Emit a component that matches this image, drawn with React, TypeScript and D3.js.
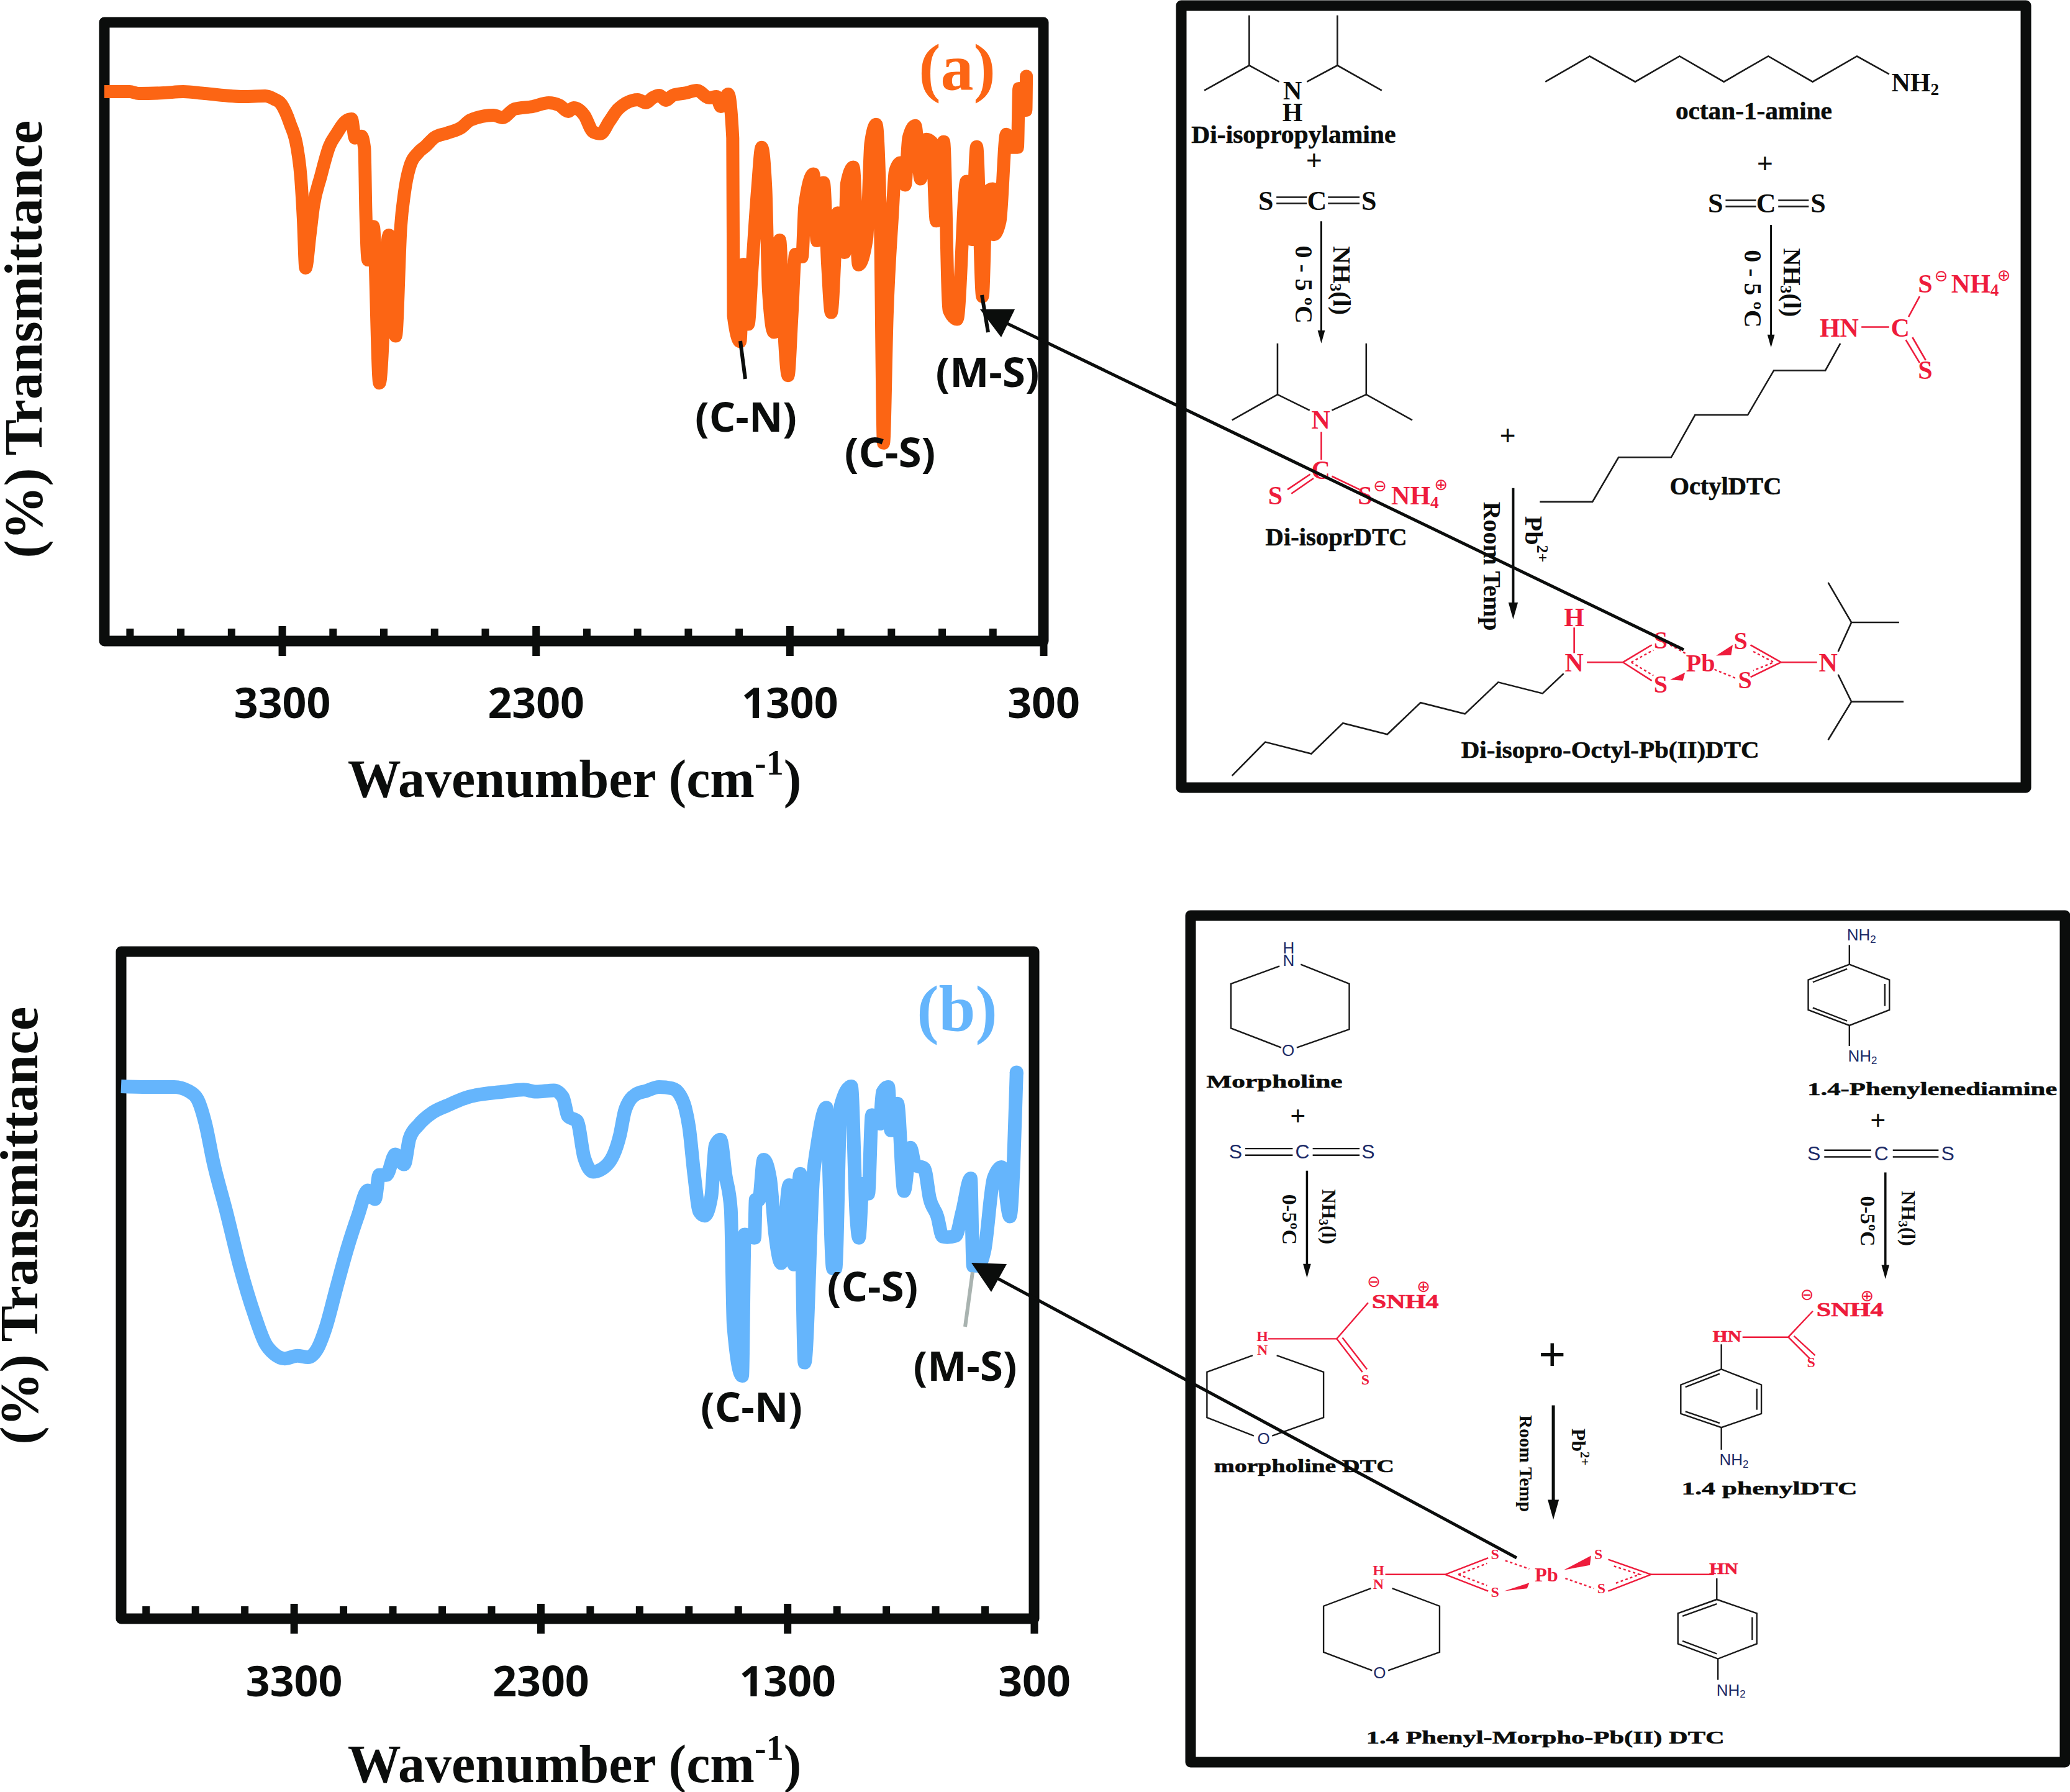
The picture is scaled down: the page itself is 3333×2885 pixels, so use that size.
import React, { useEffect, useRef } from "react";
import * as d3 from "d3";

// wavenumber axis, shared by both spectra
const xDomain = [4000, 300];
const majorTicks = [3300, 2300, 1300, 300];
const minorTicks = [3900, 3700, 3500, 3100, 2900, 2700, 2500, 2100, 1900, 1700, 1500, 1100, 900, 700, 500];

const waveA = [4000, 3900, 3865, 3766, 3689, 3605, 3450, 3366, 3331, 3303, 3268, 3240, 3226, 3216, 3207, 3190, 3176, 3148, 3113, 3085, 3050, 3026, 3012, 2987, 2975, 2970, 2961, 2940, 2916, 2879, 2852, 2832, 2818, 2797, 2762, 2734, 2699, 2650, 2593, 2558, 2467, 2432, 2383, 2312, 2249, 2207, 2172, 2151, 2109, 2074, 2045, 2010, 1975, 1898, 1866, 1840, 1813, 1787, 1760, 1707, 1665, 1617, 1588, 1571, 1542, 1524, 1521, 1495, 1482, 1463, 1447, 1426, 1410, 1394, 1383, 1362, 1339, 1325, 1306, 1291, 1277, 1251, 1240, 1206, 1192, 1166, 1150, 1136, 1110, 1083, 1075, 1049, 1028, 996, 980, 959, 943, 930, 916, 895, 884, 863, 845, 831, 805, 784, 762, 739, 722, 693, 672, 640, 603, 582, 563, 540, 524, 499, 495, 471, 446, 425, 402, 396, 369, 367];
const transA = [88.8, 88.8, 88.5, 88.6, 88.8, 88.5, 88, 88.1, 87.6, 86.8, 83.6, 79.6, 75, 68.3, 60.3, 65.6, 70.3, 75, 80, 82, 84, 84.4, 81.3, 81.6, 79.6, 69.6, 61.6, 67, 41.7, 65.6, 49.3, 67, 72.3, 76.6, 79, 80, 81.4, 82.1, 83, 84.2, 85, 84.6, 86, 86.4, 87, 86.6, 85.6, 86.2, 85, 82.3, 82, 84, 86, 87.5, 87, 87.8, 88.2, 87.4, 88.2, 88.6, 89, 87.8, 88, 86.4, 88.4, 81.3, 52.6, 48.4, 60.9, 51.2, 60.8, 73.1, 79.8, 73.1, 56.7, 49.9, 64.8, 52.6, 42.9, 52.6, 62.5, 62.1, 70.4, 75.5, 64.7, 74.1, 60.8, 53.1, 69.2, 62.8, 73.9, 76.6, 60.8, 65.1, 80.5, 83.5, 69, 32, 52.6, 69, 75.9, 77.3, 73.7, 81.3, 83.3, 74.7, 81.1, 80.6, 67.9, 80.7, 53.5, 52, 74.3, 64.9, 79.9, 55.7, 72.5, 73.1, 65.7, 67.9, 81.9, 79.8, 79.8, 89.3, 85.8, 91.3];

const waveB = [4000, 3893, 3785, 3727, 3691, 3659, 3626, 3575, 3518, 3460, 3416, 3380, 3337, 3286, 3243, 3207, 3171, 3128, 3084, 3041, 3000, 2971, 2954, 2925, 2889, 2853, 2831, 2795, 2737, 2680, 2593, 2448, 2369, 2318, 2246, 2210, 2188, 2152, 2123, 2087, 2029, 1979, 1957, 1914, 1873, 1820, 1767, 1735, 1714, 1698, 1677, 1656, 1635, 1608, 1592, 1571, 1550, 1529, 1518, 1483, 1473, 1433, 1428, 1415, 1396, 1370, 1349, 1325, 1292, 1273, 1248, 1230, 1195, 1179, 1142, 1115, 1105, 1084, 1041, 1020, 1010, 994, 972, 957, 925, 914, 891, 880, 854, 827, 801, 782, 745, 723, 692, 671, 652, 618, 591, 557, 547, 528, 501, 464, 432, 398, 371];
const transB = [79.8, 79.7, 79.7, 79.1, 77.9, 74.3, 68.4, 61.2, 52.7, 45.6, 41.3, 39.7, 39, 39.4, 39.2, 40.3, 43.6, 49.5, 55.4, 60.3, 64.2, 62.9, 66.5, 66.5, 69.6, 68.1, 72, 74, 75.9, 76.9, 78.2, 79, 79.3, 79, 79.2, 78.2, 75.3, 74.6, 69.1, 67, 68.1, 72.4, 76.3, 78.6, 79.1, 79.7, 79.5, 78.5, 76.6, 73.6, 66.4, 61, 60.4, 63.3, 70.9, 71.8, 66.4, 61.4, 44, 36.4, 57.6, 57.1, 62.8, 62.8, 68.8, 66, 57.6, 53.3, 65, 53.1, 66.7, 38.4, 66.4, 70.9, 76.6, 52.5, 52.5, 76.8, 79.8, 60.3, 57.1, 65.2, 63.7, 75.5, 74.2, 78.9, 79.7, 73.2, 77.2, 64.1, 70.6, 68, 67.5, 63, 60.3, 57.3, 57.2, 57.4, 61, 66, 52.9, 52.9, 55.2, 66, 67.7, 60.3, 81.9];

const INK = "#0b0d0c";
const RED = "#ee1c3c";
const BLUE_INK = "#1c2a66";
const SANS = "'Open Sans', sans-serif";
const SERIF = "'Liberation Serif', serif";
const ARIAL = "'Liberation Sans', sans-serif";

type Pt = number[];
type Lbl = [string, number, number, string?, number?, number?, number?]; // text, x, y, color, size, rotate, width

// scheme (a) drawn in its own coordinates
const aLines: Pt[][] = [
  [[55, 177], [136, 128], [190, 160]], [[136, 128], [136, 30]], [[240, 160], [295, 128], [375, 177]], [[295, 128], [295, 30]],
  [[670, 160], [750, 110], [832, 160], [912, 110], [992, 160], [1072, 110], [1152, 160], [1232, 110], [1290, 145]],
  [[185, 386], [240, 386]], [[185, 398], [240, 398]], [[278, 386], [335, 386]], [[278, 398], [335, 398]],
  [[995, 392], [1050, 392]], [[995, 404], [1050, 404]], [[1090, 392], [1145, 392]], [[1090, 404], [1145, 404]],
  [[105, 822], [187, 772], [245, 803]], [[187, 772], [187, 672]], [[285, 803], [347, 772], [430, 822]], [[347, 772], [347, 672]],
  [[660, 982], [755, 982], [802, 895], [897, 895], [940, 812], [1035, 812], [1082, 725], [1175, 725], [1202, 672]],
  [[105, 1518], [165, 1452], [248, 1475], [305, 1415], [385, 1437], [445, 1375], [525, 1397], [585, 1335], [665, 1357], [703, 1318]],
  [[1198, 1275], [1222, 1218], [1180, 1140]], [[1222, 1218], [1308, 1218]],
  [[1198, 1320], [1222, 1373], [1180, 1448]], [[1222, 1373], [1316, 1373]],
];
const aRedLines: Pt[][] = [
  [[266, 845], [266, 900]], [[205, 958], [246, 928]], [[212, 966], [252, 936]], [[285, 932], [335, 958]],
  [[1240, 640], [1290, 640]], [[1325, 620], [1345, 580]], [[1320, 665], [1345, 710]], [[1332, 660], [1356, 705]],
  [[722, 1228], [722, 1278]], [[745, 1296], [810, 1296], [862, 1262]], [[810, 1296], [862, 1332]],
  [[1040, 1262], [1095, 1296], [1040, 1325]], [[1095, 1296], [1160, 1296]],
];
const aRedDashed: Pt[][] = [
  [[825, 1296], [865, 1272]], [[825, 1296], [865, 1322]], [[1045, 1275], [1082, 1296], [1045, 1312]],
  [[895, 1262], [925, 1280]], [[975, 1310], [1015, 1328]],
];
const aWedges: Pt[][] = [
  [[895, 1330], [922, 1316], [918, 1332]], [[978, 1283], [1008, 1262], [1005, 1282]],
];
const aArrows = [[266, 433, 266, 672, 3, 13], [1077, 440, 1077, 680, 3, 13], [612, 955, 612, 1212, 4, 17]];
const aLabels: Lbl[] = [
  ["N", 214, 178, INK, 42], ["H", 214, 220, INK, 42], ["Di-isopropylamine", 216, 262, INK, 40, 0, 329],
  ["NH_{2}", 1337, 162, INK, 42], ["octan-1-amine", 1046, 216, INK, 40, 0, 252],
  ["+", 253, 314, INK, 46], ["S", 166, 392, INK, 44], ["C", 258, 392, INK, 44], ["S", 352, 392, INK, 44],
  ["+", 1066, 320, INK, 46], ["S", 977, 398, INK, 44], ["C", 1068, 398, INK, 44], ["S", 1162, 398, INK, 44],
  ["NH_{3}(l)", 303, 549, INK, 40, 90], ["0 - 5 ºC", 235, 557, INK, 40, 90],
  ["NH_{3}(l)", 1115, 553, INK, 40, 90], ["0 - 5 ºC", 1045, 565, INK, 40, 90],
  ["N", 265, 822, RED, 42], ["C", 265, 920, RED, 42], ["S", 183, 970, RED, 42], ["S", 345, 970, RED, 42],
  ["NH_{4}", 435, 970, RED, 42], ["Di-isoprDTC", 293, 1050, INK, 40, 0, 228],
  ["+", 602, 852, INK, 46], ["HN", 1200, 642, RED, 42], ["C", 1310, 642, RED, 42], ["S", 1355, 555, RED, 42], ["S", 1355, 725, RED, 42],
  ["NH_{4}", 1445, 555, RED, 42], ["OctylDTC", 995, 950, INK, 40, 0, 180],
  ["Pb^{2+}", 650, 1055, INK, 40, 90], ["Room Temp", 575, 1108, INK, 40, 90],
  ["H", 722, 1208, RED, 42], ["N", 722, 1297, RED, 42], ["S", 878, 1252, RED, 40], ["S", 878, 1338, RED, 40], ["Pb", 950, 1297, RED, 40],
  ["S", 1022, 1253, RED, 40], ["S", 1030, 1330, RED, 40], ["N", 1180, 1297, RED, 42],
  ["Di-isopro-Octyl-Pb(II)DTC", 787, 1467, INK, 38, 0, 480],
];
const aCharges: Lbl[] = [
  ["⊖", 372, 950, RED, 26], ["⊕", 482, 948, RED, 26], ["⊖", 1384, 540, RED, 26], ["⊕", 1497, 538, RED, 26],
];

// scheme (b)
const bLines: Pt[][] = [
  [[185, 118], [100, 150], [100, 230], [188, 265]], [[215, 265], [307, 232], [307, 150], [222, 115]],
  [[125, 447], [208, 447]], [[125, 459], [208, 459]], [[243, 447], [325, 447]], [[243, 459], [325, 459]],
  [[1138, 450], [1220, 450]], [[1138, 462], [1220, 462]], [[1258, 450], [1338, 450]], [[1258, 462], [1338, 462]],
  [[1182, 80], [1182, 115]], [[1182, 225], [1182, 262]],
  [[1182, 115], [1252, 143], [1252, 197], [1182, 225], [1110, 197], [1110, 143], [1182, 115]],
  [[1244, 150], [1244, 190]], [[1118, 193], [1178, 217]], [[1118, 147], [1178, 123]],
  [[138, 820], [58, 850], [58, 932], [140, 965]], [[172, 965], [262, 932], [262, 850], [180, 820]],
  [[958, 800], [958, 845]], [[958, 950], [958, 990]],
  [[958, 845], [1028, 873], [1028, 925], [958, 950], [887, 925], [887, 873], [958, 845]],
  [[1020, 880], [1020, 918]], [[895, 921], [955, 942]], [[895, 877], [955, 853]],
  [[345, 1240], [262, 1272], [262, 1355], [347, 1388]], [[375, 1388], [465, 1355], [465, 1272], [382, 1240]],
  [[950, 1222], [950, 1260]], [[952, 1367], [952, 1405]],
  [[950, 1260], [1020, 1285], [1020, 1340], [952, 1367], [882, 1340], [882, 1285], [950, 1260]],
  [[1012, 1292], [1012, 1333]], [[890, 1335], [950, 1358]], [[890, 1290], [950, 1268]],
];
const bRedLines: Pt[][] = [
  [[165, 790], [285, 790], [340, 725]], [[285, 790], [330, 850]], [[295, 788], [338, 845]],
  [[995, 787], [1075, 787], [1118, 740]], [[1075, 787], [1112, 825]], [[1085, 785], [1122, 820]],
  [[370, 1215], [475, 1215], [550, 1185]], [[475, 1215], [550, 1245]],
  [[760, 1188], [835, 1215], [760, 1245]], [[835, 1215], [945, 1215]],
];
const bRedDashed: Pt[][] = [
  [[498, 1215], [548, 1195]], [[498, 1215], [548, 1235]], [[770, 1200], [815, 1215], [770, 1232]],
  [[580, 1190], [622, 1205]], [[685, 1222], [735, 1240]],
];
const bWedges: Pt[][] = [
  [[578, 1245], [622, 1230], [618, 1240]], [[682, 1207], [730, 1181], [728, 1198]],
];
const bArrows = [[233, 487, 233, 680, 3.5, 14], [1245, 490, 1245, 682, 3.5, 14], [664, 910, 664, 1116, 5, 20]];
const bLabels: Lbl[] = [
  ["H", 201, 85, BLUE_INK, 26], ["N", 201, 108, BLUE_INK, 26], ["O", 200, 270, BLUE_INK, 26],
  ["Morpholine", 176, 325, INK, 30, 0, 219], ["+", 217, 388, INK, 44],
  ["S", 108, 453, BLUE_INK, 32], ["C", 225, 453, BLUE_INK, 32], ["S", 340, 453, BLUE_INK, 32],
  ["NH_{3}(l)", 272, 570, INK, 32, 90], ["0-5ºC", 203, 575, INK, 34, 90],
  ["NH_{2}", 1203, 62, BLUE_INK, 26], ["NH_{2}", 1205, 280, BLUE_INK, 26],
  ["1.4-Phenylenediamine", 1327, 338, INK, 30, 0, 402], ["+", 1232, 395, INK, 44],
  ["S", 1120, 456, BLUE_INK, 32], ["C", 1238, 456, BLUE_INK, 32], ["S", 1354, 456, BLUE_INK, 32],
  ["NH_{3}(l)", 1285, 573, INK, 32, 90], ["0-5ºC", 1215, 578, INK, 34, 90],
  ["SNH4", 405, 722, RED, 32, 0, 108], ["H", 155, 785, RED, 24], ["N", 155, 810, RED, 24], ["S", 335, 863, RED, 24],
  ["O", 157, 970, BLUE_INK, 26], ["morpholine DTC", 228, 1018, INK, 30, 0, 290],
  ["HN", 968, 785, RED, 26, 0, 46], ["SNH4", 1183, 737, RED, 32, 0, 108], ["S", 1115, 832, RED, 24],
  ["NH_{2}", 980, 1008, BLUE_INK, 26], ["1.4 phenylDTC", 1042, 1058, INK, 30, 0, 283],
  ["+", 662, 818, INK, 78], ["Pb^{2+}", 708, 985, INK, 32, 90], ["Room Temp", 617, 1015, INK, 30, 90],
  ["H", 358, 1207, RED, 24], ["N", 358, 1232, RED, 24], ["O", 360, 1392, BLUE_INK, 26],
  ["S", 562, 1178, RED, 24], ["S", 562, 1247, RED, 24], ["Pb", 652, 1215, RED, 32],
  ["S", 743, 1178, RED, 24], ["S", 748, 1240, RED, 24], ["HN", 962, 1204, RED, 26, 0, 46],
  ["NH_{2}", 975, 1423, BLUE_INK, 26], ["1.4 Phenyl-Morpho-Pb(II) DTC", 650, 1507, INK, 30, 0, 577],
];
const bCharges: Lbl[] = [
  ["⊖", 350, 687, RED, 26], ["⊕", 437, 695, RED, 26], ["⊖", 1108, 710, RED, 26], ["⊕", 1213, 712, RED, 26],
];

const toPath = d3.line();

// text with _{sub} and ^{sup} parts
const rich = (text: string, size: number) => {
  const parts = text.split(/([_^]\{[^}]*\})/).filter(Boolean);
  let shift = 0;
  return parts.map((p, i) => {
    const script = p[0] === "_" || p[0] === "^";
    const target = script ? (p[0] === "_" ? size * 0.25 : -size * 0.35) : 0;
    const dy = target - shift;
    shift = target;
    return (
      <tspan key={i} dy={dy} fontSize={script ? size * 0.65 : size}>
        {script ? p.slice(2, -1) : p}
      </tspan>
    );
  });
};

const Spectrum = ({ frame, wave, trans, color, lw, labelY, titleY, yTitleX, yTitleY, name, nameY }: any) => {
  const axisRef = useRef<SVGGElement>(null);
  const [x0, y0, x1, y1] = frame;
  const x = d3.scaleLinear().domain(xDomain).range([x0, x1]);
  const y = d3.scaleLinear().domain([0, 100]).range([y1, y0]);
  const line = d3
    .line<number>()
    .x((d) => x(d))
    .y((_, i) => y(trans[i]))
    .curve(d3.curveMonotoneX);

  useEffect(() => {
    const g = d3.select(axisRef.current);
    g.selectAll("*").remove();
    const minor = g.append("g").call(d3.axisBottom(x).tickValues(minorTicks).tickSize(-20).tickFormat(() => ""));
    minor.select(".domain").remove();
    minor.selectAll("line").attr("stroke", INK).attr("stroke-width", 12);
    const major = g.append("g").call(d3.axisBottom(x).tickValues(majorTicks).tickSize(24).tickPadding(labelY - y1 - 47).tickFormat((d) => String(d)));
    major.select(".domain").remove();
    major.selectAll("line").attr("y1", -24).attr("stroke", INK).attr("stroke-width", 12);
    major
      .selectAll("text")
      .attr("font-family", SANS)
      .attr("font-weight", 700)
      .attr("font-size", 68)
      .attr("fill", INK);
    major.attr("font-family", SANS);
  }, []);

  const last = wave.length - 1;
  return (
    <g>
      <rect x={x0} y={y0} width={x1 - x0} height={y1 - y0} fill="#fff" stroke={INK} strokeWidth={17} strokeLinejoin="round" />
      <g ref={axisRef} transform={`translate(0,${y1})`} />
      <path d={line(wave) as string} fill="none" stroke={color} strokeWidth={lw} strokeLinejoin="round" />
      <circle cx={x(wave[last])} cy={y(trans[last])} r={lw / 2} fill={color} />
      <text x={1541} y={nameY} textAnchor="middle" dominantBaseline="central" fontFamily={SERIF} fontWeight={700} fontSize={106} fill={color}>
        {name}
      </text>
      <text x={925} y={titleY} textAnchor="middle" dominantBaseline="central" fontFamily={SERIF} fontWeight={700} fontSize={86} fill={INK}>
        Wavenumber (cm<tspan dy={-26} fontSize={56}>-1</tspan>
        <tspan dy={26}>)</tspan>
      </text>
      <text
        transform={`translate(${yTitleX},${yTitleY}) rotate(-90)`}
        textAnchor="middle"
        dominantBaseline="central"
        fontFamily={SERIF}
        fontWeight={700}
        fontSize={87}
        fill={INK}
      >
        (%) Transmittance
      </text>
    </g>
  );
};

const Scheme = ({ box, ox, oy, kx, ky, lines, redLines, dashed, wedges, arrows, labels, charges, size, lw }: any) => {
  const map = (p: Pt) => [ox + p[0] / kx, oy + p[1] / ky] as [number, number];
  const txt = (l: Lbl, i: number, family: string, weight: number) => {
    const [s, px, py, color = INK, fs = size, rot = 0, width] = l;
    const [tx, ty] = map([px, py]);
    const atom = color === BLUE_INK;
    return (
      <text
        key={i}
        transform={`translate(${tx},${ty}) rotate(${rot})`}
        textAnchor="middle"
        dominantBaseline="central"
        fontFamily={atom ? ARIAL : family}
        fontWeight={atom ? 400 : weight}
        fontSize={fs}
        fill={color}
        stroke={width ? color : undefined}
        strokeWidth={width ? 0.6 : undefined}
        textLength={width}
        lengthAdjust={width ? "spacingAndGlyphs" : undefined}
      >
        {rich(s, fs)}
      </text>
    );
  };
  return (
    <g>
      <rect x={box[0]} y={box[1]} width={box[2] - box[0]} height={box[3] - box[1]} fill="#fff" stroke={INK} strokeWidth={17} strokeLinejoin="round" />
      {lines.map((l: Pt[], i: number) => (
        <path key={i} d={toPath(l.map(map)) as string} fill="none" stroke="#1a1a1a" strokeWidth={lw} />
      ))}
      {redLines.map((l: Pt[], i: number) => (
        <path key={i} d={toPath(l.map(map)) as string} fill="none" stroke={RED} strokeWidth={lw} />
      ))}
      {dashed.map((l: Pt[], i: number) => (
        <path key={i} d={toPath(l.map(map)) as string} fill="none" stroke={RED} strokeWidth={2.4} strokeDasharray="4 4" />
      ))}
      {wedges.map((l: Pt[], i: number) => (
        <polygon key={i} points={l.map(map).join(" ")} fill={RED} />
      ))}
      {arrows.map((a: number[], i: number) => {
        const [ax, ay] = map([a[0], a[1]]);
        const [bx, by] = map([a[2], a[3]]);
        return (
          <g key={i}>
            <line x1={ax} y1={ay} x2={bx} y2={by - a[5]} stroke={INK} strokeWidth={a[4]} />
            <polygon points={`${bx},${by} ${bx - a[5] * 0.45},${by - a[5] * 1.6} ${bx + a[5] * 0.45},${by - a[5] * 1.6}`} fill={INK} />
          </g>
        );
      })}
      {labels.map((l: Lbl, i: number) => txt(l, i, SERIF, 700))}
      {charges.map((l: Lbl, i: number) => txt(l, i, "'DejaVu Sans'", 400))}
    </g>
  );
};

// band annotations on the spectra, in page pixels
const bandLabels: [string, number, number][] = [
  ["(C-N)", 1201, 669], ["(C-S)", 1433, 726], ["(M-S)", 1590, 597],
  ["(C-N)", 1210, 2263], ["(C-S)", 1405, 2069], ["(M-S)", 1554, 2197],
];
const leaders = [
  { pts: [[1192, 549], [1200, 610]], color: INK },
  { pts: [[1581, 475], [1591, 535]], color: INK },
  { pts: [[1566, 2048], [1554, 2136]], color: "#a9b3b0" },
];
const pointers = [
  { line: [[1620, 520], [2711, 1046]], head: [[1578, 498], [1634, 498], [1612, 543]] },
  { line: [[1606, 2058], [2442, 2508]], head: [[1564, 2033], [1621, 2035], [1596, 2080]] },
];

export default function App() {
  return (
    <svg width={3333} height={2885} viewBox="0 0 3333 2885" style={{ position: "absolute", left: 0, top: 0, display: "block", background: "#fff" }}>
      <Scheme box={[1902, 9, 3262, 1268]} ox={1890} oy={0} kx={1.12} ky={1.2155} size={40} lw={2.6} lines={aLines} redLines={aRedLines} dashed={aRedDashed} wedges={aWedges} arrows={aArrows} labels={aLabels} charges={aCharges} />
      <Scheme box={[1917, 1474, 3325, 2837]} ox={1890} oy={1450} kx={1.0866} ky={1.12} size={30} lw={2.4} lines={bLines} redLines={bRedLines} dashed={bRedDashed} wedges={bWedges} arrows={bArrows} labels={bLabels} charges={bCharges} />
      <Spectrum frame={[168, 36, 1680, 1032]} wave={waveA} trans={transA} color="#fc6514" lw={21} labelY={1131} titleY={1254} yTitleX={37} yTitleY={546} name="(a)" nameY={108} />
      <Spectrum frame={[195, 1532, 1665, 2606]} wave={waveB} trans={transB} color="#65b5fc" lw={22} labelY={2706} titleY={2840} yTitleX={30} yTitleY={1973} name="(b)" nameY={1624} />
      {bandLabels.map(([s, lx, ly], i) => (
        <text key={i} x={lx} y={ly} textAnchor="middle" dominantBaseline="central" fontFamily={SANS} fontWeight={700} fontSize={67} fill={INK}>
          {s}
        </text>
      ))}
      {leaders.map((l, i) => (
        <path key={i} d={toPath(l.pts as [number, number][]) as string} stroke={l.color} strokeWidth={6} fill="none" />
      ))}
      {pointers.map((p, i) => (
        <g key={i}>
          <path d={toPath(p.line as [number, number][]) as string} stroke={INK} strokeWidth={5} fill="none" />
          <polygon points={p.head.join(" ")} fill={INK} />
        </g>
      ))}
    </svg>
  );
}
